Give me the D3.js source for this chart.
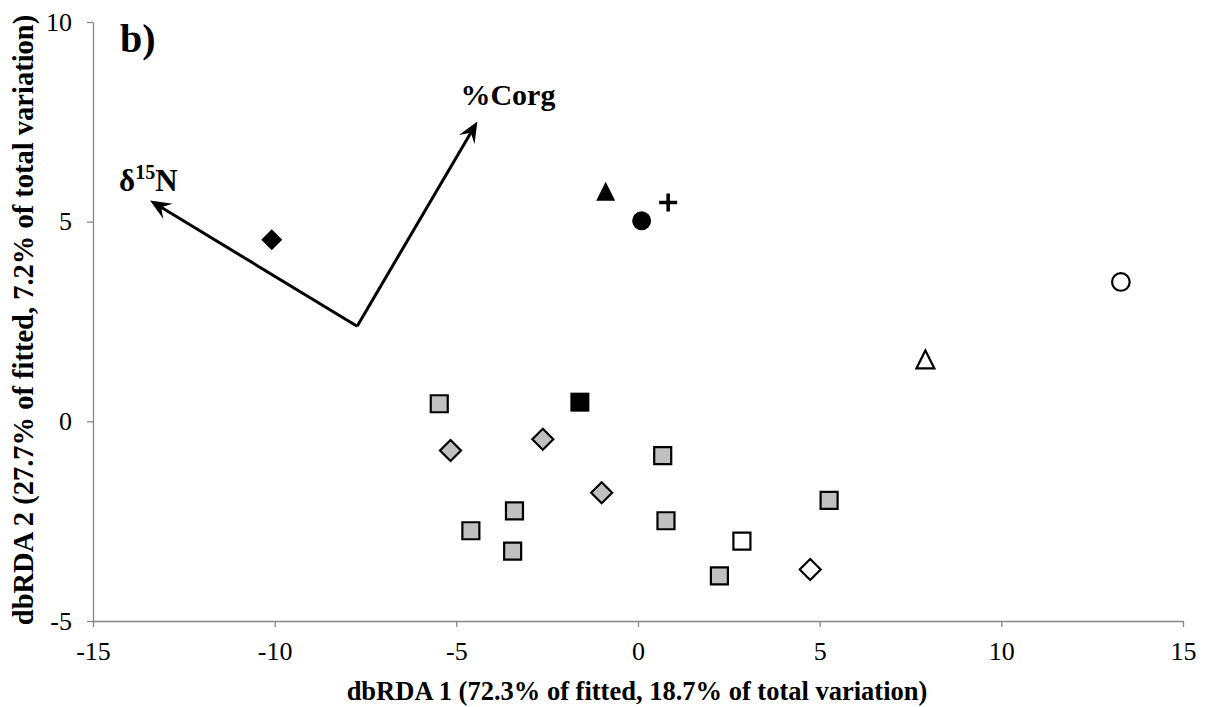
<!DOCTYPE html>
<html>
<head>
<meta charset="utf-8">
<script src="https://cdn.jsdelivr.net/npm/d3@7"></script>
<style>
  body { margin: 0; background: #fff; }
  text { font-family: "Liberation Serif", "Times New Roman", serif; }
</style>
</head>
<body>
<svg id="chart" width="1209" height="707"></svg>
<script>
// axis ticks
var xTicks = [-15, -10, -5, 0, 5, 10, 15];
var yTicks = [-5, 0, 5, 10];

// sample scores (dbRDA1, dbRDA2), one array per symbol
var grayBoxes = [[-5.47, 0.44], [0.68, -0.86], [-3.40, -2.24], [-4.60, -2.74],
                 [-3.45, -3.25], [0.77, -2.49], [2.24, -3.87], [5.26, -1.98]];
var grayDiamonds = [[-5.16, -0.73], [-2.62, -0.45], [-1.00, -1.79]];
var blackDiamonds = [[-10.08, 4.55]];
var blackBoxes = [[-1.60, 0.48]];
var blackTriangles = [[-0.89, 5.76]];
var blackCircles = [[0.10, 5.02]];
var crosses = [[0.83, 5.48]];
var openCircles = [[13.29, 3.49]];
var openTriangles = [[7.91, 1.55]];
var openBoxes = [[2.86, -3.00]];
var openDiamonds = [[4.74, -3.71]];

// predictor vectors
var vectorOrigin = [-7.73, 2.38];
var vectorNames = ["d15N", "Corg"];
var vectorTips = [[-13.43, 5.53], [-4.42, 7.51]];

var width = 1209, height = 707;
var serif = "'Liberation Serif', 'Times New Roman', serif";
var svg = d3.select("#chart");

var x = d3.scaleLinear().domain([-15, 15]).range([93, 1183]);
var y = d3.scaleLinear().domain([-5, 10]).range([621, 22]);

var axisGrey = "#868686";
var plainFormat = function(d) { return String(d); };

// axes
var gx = svg.append("g")
    .attr("transform", "translate(0," + y(-5) + ")")
    .call(d3.axisBottom(x).tickValues(xTicks).tickFormat(plainFormat)
        .tickSizeInner(6).tickSizeOuter(0).tickPadding(15));
var gy = svg.append("g")
    .attr("transform", "translate(" + x(-15) + ",0)")
    .call(d3.axisLeft(y).tickValues(yTicks).tickFormat(plainFormat)
        .tickSizeInner(6).tickSizeOuter(0).tickPadding(15));

[gx, gy].forEach(function(g) {
    g.attr("font-family", serif).attr("font-size", 26);
    g.select(".domain").attr("stroke", axisGrey).attr("stroke-width", 1.3);
    g.selectAll(".tick line").attr("stroke", axisGrey).attr("stroke-width", 1.3);
    g.selectAll(".tick text")
        .attr("fill", "#000")
        .style("font-family", serif)
        .style("font-size", "26px");
});

// axis titles
svg.append("text")
    .attr("x", 637)
    .attr("y", 700)
    .attr("text-anchor", "middle")
    .style("font-size", "26.5px")
    .style("font-weight", "bold")
    .text("dbRDA 1 (72.3% of fitted, 18.7% of total variation)");

svg.append("text")
    .attr("transform", "translate(33,320) rotate(-90)")
    .attr("text-anchor", "middle")
    .style("font-size", "28.5px")
    .style("font-weight", "bold")
    .text("dbRDA 2 (27.7% of fitted, 7.2% of total variation)");

// panel letter
svg.append("text")
    .attr("x", 120)
    .attr("y", 52)
    .style("font-size", "40px")
    .style("font-weight", "bold")
    .text("b)");

// vectors
var ox = x(vectorOrigin[0]), oy = y(vectorOrigin[1]);
vectorTips.forEach(function(t, i) {
    var tx = x(t[0]), ty = y(t[1]);
    var dx = tx - ox, dy = ty - oy;
    var len = Math.sqrt(dx * dx + dy * dy);
    var ux = dx / len, uy = dy / len;
    var nx = -uy, ny = ux;
    var L = 21, W = 9, N = 13;

    svg.append("line")
        .attr("x1", ox).attr("y1", oy)
        .attr("x2", tx - N * ux).attr("y2", ty - N * uy)
        .attr("stroke", "#000")
        .attr("stroke-width", 3);

    svg.append("path")
        .attr("d", "M" + tx + "," + ty +
            "L" + (tx - L * ux + W * nx) + "," + (ty - L * uy + W * ny) +
            "L" + (tx - N * ux) + "," + (ty - N * uy) +
            "L" + (tx - L * ux - W * nx) + "," + (ty - L * uy - W * ny) + "Z")
        .attr("fill", "#000");
});

// vector labels
var d15 = svg.append("text")
    .attr("x", x(vectorTips[0][0]) - 31)
    .attr("y", y(vectorTips[0][1]) - 10)
    .style("font-size", "31px")
    .style("font-weight", "bold");
d15.append("tspan").text("\u03b4");
d15.append("tspan").attr("dy", -12).style("font-size", "20px").text("15");
d15.append("tspan").attr("dy", 12).text("N");

svg.append("text")
    .attr("x", x(vectorTips[1][0]) - 17)
    .attr("y", y(vectorTips[1][1]) - 16)
    .style("font-size", "30px")
    .style("font-weight", "bold")
    .text("%Corg");

// symbol shapes
function boxPath(s) {
    return "M" + (-s) + "," + (-s) + "H" + s + "V" + s + "H" + (-s) + "Z";
}
function diamondPath(s) {
    return "M0," + (-s) + "L" + s + ",0L0," + s + "L" + (-s) + ",0Z";
}
function trianglePath(s) {
    return "M0," + (-s) + "L" + s + "," + s + "L" + (-s) + "," + s + "Z";
}
function circlePath(r) {
    return "M" + r + ",0A" + r + "," + r + " 0 1,1 " + (-r) + ",0A" + r + "," + r + " 0 1,1 " + r + ",0Z";
}
function crossPath(s) {
    return "M" + (-s) + ",0H" + s + "M0," + (-s) + "V" + s;
}

var groups = [
    { data: grayBoxes,      d: boxPath(8.5),      fill: "#c0c0c0", stroke: "#000", sw: 2.2 },
    { data: grayDiamonds,   d: diamondPath(10.5), fill: "#c0c0c0", stroke: "#000", sw: 2.2 },
    { data: blackDiamonds,  d: diamondPath(10.5), fill: "#000",    stroke: "none", sw: 0 },
    { data: blackBoxes,     d: boxPath(9.5),      fill: "#000",    stroke: "none", sw: 0 },
    { data: blackTriangles, d: trianglePath(9.5), fill: "#000",    stroke: "none", sw: 0 },
    { data: blackCircles,   d: circlePath(9.5),   fill: "#000",    stroke: "none", sw: 0 },
    { data: crosses,        d: crossPath(9),      fill: "none",    stroke: "#000", sw: 3.5 },
    { data: openCircles,    d: circlePath(8.8),   fill: "#fff",    stroke: "#000", sw: 2.2 },
    { data: openTriangles,  d: trianglePath(9),   fill: "#fff",    stroke: "#000", sw: 2.2 },
    { data: openBoxes,      d: boxPath(8.5),      fill: "#fff",    stroke: "#000", sw: 2.2 },
    { data: openDiamonds,   d: diamondPath(10.5), fill: "#fff",    stroke: "#000", sw: 2.2 }
];

groups.forEach(function(g) {
    svg.append("g").selectAll("path")
        .data(g.data)
        .enter()
        .append("path")
        .attr("transform", function(d) { return "translate(" + x(d[0]) + "," + y(d[1]) + ")"; })
        .attr("d", g.d)
        .attr("fill", g.fill)
        .attr("stroke", g.stroke)
        .attr("stroke-width", g.sw);
});
</script>
</body>
</html>
